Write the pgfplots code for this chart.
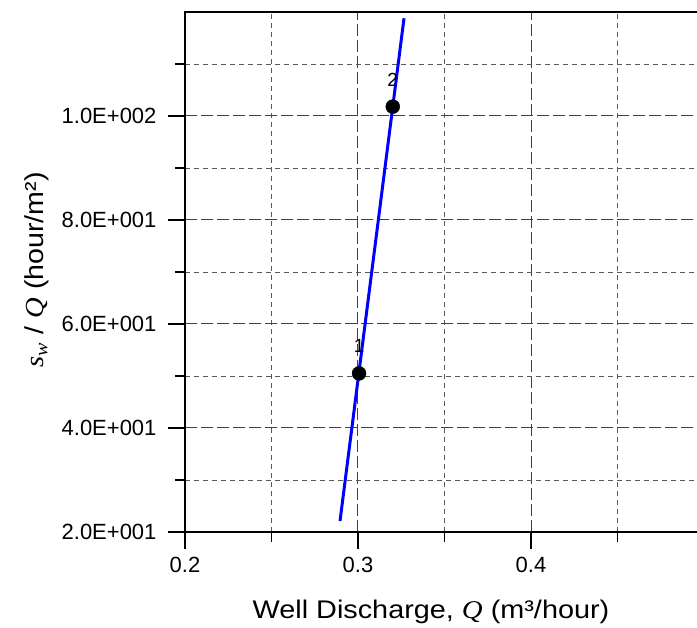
\documentclass[border=0pt]{standalone}
\usepackage{graphicx}
\usepackage{pgfplots}
\pgfplotsset{compat=1.18}
\usepackage{fontspec}
\setmainfont{Liberation Sans}
\newfontfamily\serif{Liberation Serif}
\begin{document}
\begin{tikzpicture}
\begin{axis}[
  scale only axis, width=519bp, height=520bp,
  xmin=0.2, xmax=0.5, ymin=20, ymax=120,
  xtick={0.2,0.3,0.4}, xticklabels={0.2,0.3,0.4},
  ytick={20,40,60,80,100},
  yticklabels={2.0E+001,4.0E+001,6.0E+001,8.0E+001,1.0E+002},
  minor xtick={0.25,0.35,0.45},
  minor ytick={30,50,70,90,110},
  xtick pos=bottom, ytick pos=left,
  tick align=outside,
  major tick length=17bp, minor tick length=10bp,
  grid=both,
  major grid style={black!75, dash pattern=on 12bp off 4bp, line width=1bp},
  minor grid style={black!65, dash pattern=on 5bp off 4bp, line width=0.9bp},
  axis line style={line width=1.6bp},
  tick style={black, line width=1.3bp},
  ticklabel style={font=\fontsize{22bp}{26bp}\selectfont},
  yticklabel style={xshift=-8bp},
  xticklabel style={yshift=-5bp},
  every axis x label/.style={at={(rel axis cs:0.474,0)}, yshift=-80bp, anchor=center,
     font=\fontsize{25.5bp}{30bp}\selectfont},
  every axis y label/.style={at={(rel axis cs:0,0.504)}, xshift=-148bp, anchor=center, rotate=90,
     font=\fontsize{26bp}{30bp}\selectfont},
  xlabel={\scalebox{1.13}[1]{Well Discharge, {\serif\itshape Q} (m³/hour)}},
  ylabel={\scalebox{1.1}[1]{{\serif\itshape s}\textsubscript{\serif\itshape w} / {\serif\itshape Q} (hour/m²)}},
]
\coordinate (o) at (rel axis cs:0,0);
\addplot[only marks, mark=*, mark size=7bp, black,
  nodes near coords, point meta=explicit symbolic,
  nodes near coords align={center},
  every node near coord/.append style={font=\fontsize{19bp}{22bp}\selectfont, black, yshift=27bp}]
  coordinates {(0.3006,50.5) [1] (0.3201,101.8) [2]};
\addplot[blue, line width=3bp] coordinates {(0.2896,22.1) (0.3266,118.8)};
\end{axis}
\pgfresetboundingbox
\path (o) ++(-185bp,-96bp) rectangle ++(697bp,628bp);
\end{tikzpicture}
\end{document}
